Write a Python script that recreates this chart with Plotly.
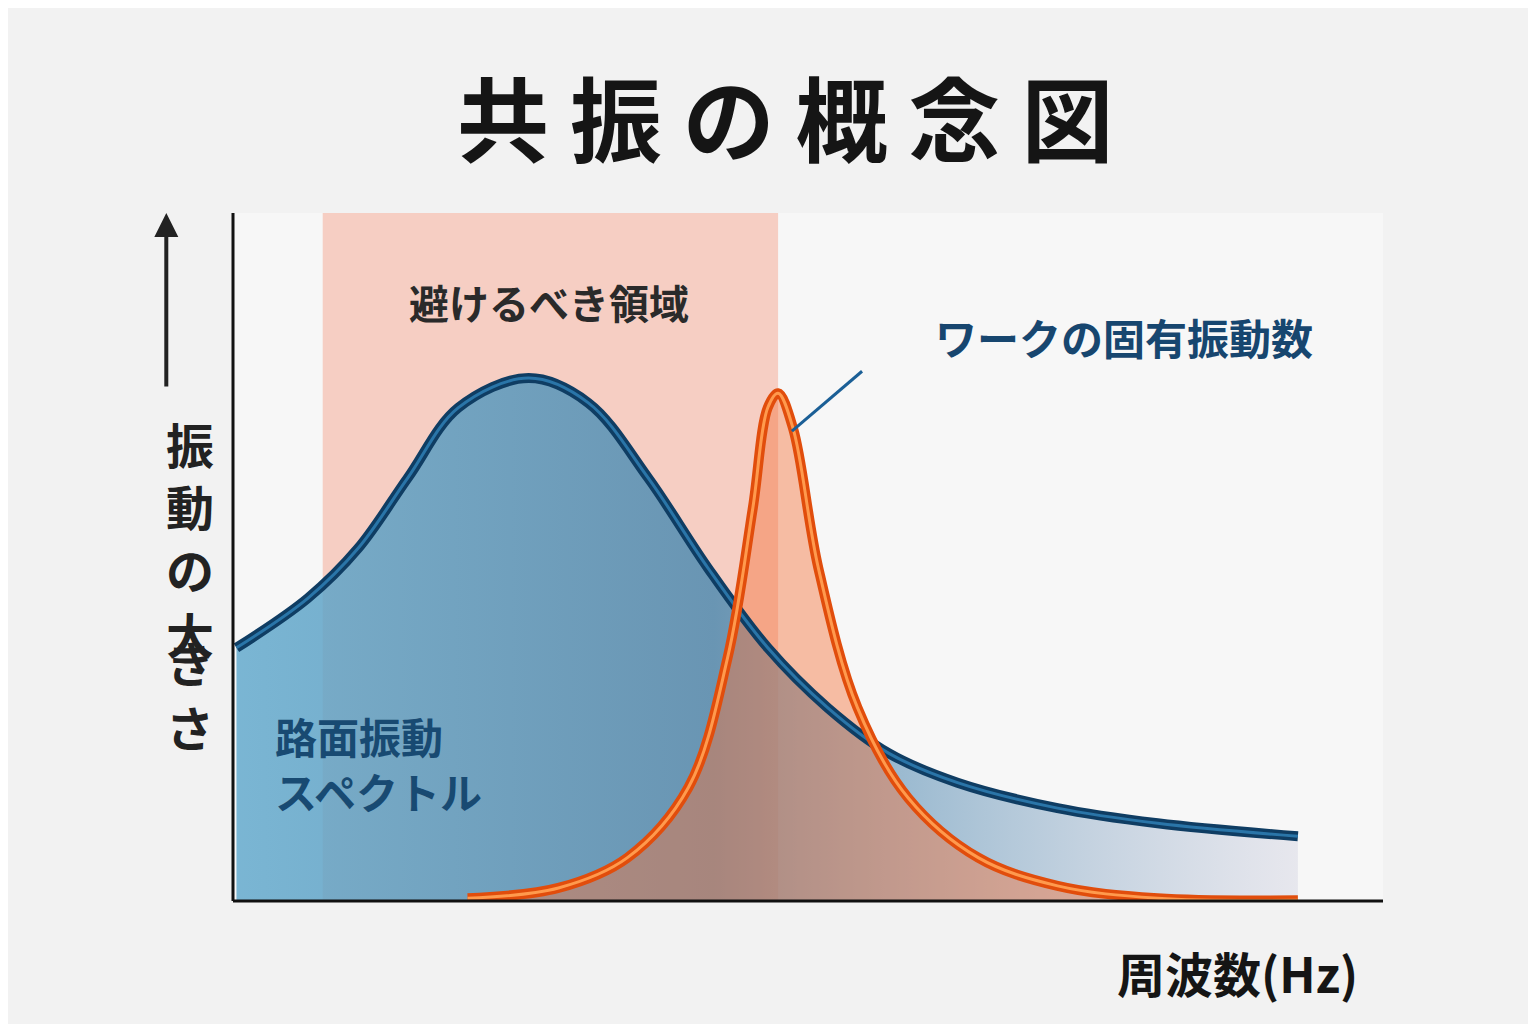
import plotly.graph_objects as go

blue_x = [0.3, 6.5, 10.9, 15.2, 19.6, 25.7, 30.9, 36.1, 41.3, 46.5, 51.7, 57.0, 63.0, 71.7, 80.4, 92.6]
blue_y = [36.8, 44.0, 51.3, 61.5, 71.7, 76.0, 72.4, 61.5, 48.4, 36.8, 28.1, 21.5, 17.2, 13.5, 11.3, 9.4]
orange_x = [20.4, 28.3, 34.3, 39.6, 43.0, 45.2, 46.5, 47.4, 48.7, 50.9, 54.3, 58.7, 64.8, 71.7, 80.4, 92.6]
orange_y = [0.4, 1.9, 6.3, 16.5, 35.3, 57.1, 71.7, 73.8, 68.7, 48.4, 28.1, 15.0, 6.3, 2.2, 0.4, 0.1]
zone = [7.8, 47.4]
ylabel_chars = ["振", "動", "の", "大", "き", "さ"]

F = "Noto Sans CJK JP"
fig = go.Figure()
fig.add_trace(go.Scatter(x=blue_x, y=blue_y, mode="lines", line=dict(shape="spline", width=0),
    fill="tozeroy", fillgradient=dict(type="horizontal",
        colorscale=[[0, "rgba(100,170,205,0.85)"], [0.45, "rgba(70,135,175,0.8)"], [1, "rgba(215,215,228,0.5)"]]),
    hoverinfo="skip"))
fig.add_trace(go.Scatter(x=orange_x, y=orange_y, mode="lines", line=dict(shape="spline", width=0),
    fill="tozeroy", fillcolor="rgba(245,115,60,0.45)", hoverinfo="skip"))
fig.add_trace(go.Scatter(x=blue_x, y=blue_y, mode="lines", line=dict(shape="spline", width=10, color="#0f3d63")))
fig.add_trace(go.Scatter(x=blue_x, y=blue_y, mode="lines", line=dict(shape="spline", width=3, color="#2a75a8")))
fig.add_trace(go.Scatter(x=orange_x, y=orange_y, mode="lines", line=dict(shape="spline", width=10, color="#e14d0c")))
fig.add_trace(go.Scatter(x=orange_x, y=orange_y, mode="lines", line=dict(shape="spline", width=3, color="#ff9a4d")))

fig.add_shape(type="rect", xref="x", yref="y", x0=zone[0], x1=zone[1], y0=0, y1=100,
              fillcolor="rgba(245,140,110,0.38)", line_width=0, layer="below")
fig.add_shape(type="line", xref="paper", yref="paper", x0=0, x1=1, y0=0, y1=0, line=dict(color="#111", width=3))
fig.add_shape(type="line", xref="paper", yref="paper", x0=0, x1=0, y0=0, y1=1, line=dict(color="#111", width=3))
fig.add_shape(type="line", xref="x", yref="y", x0=48.6, x1=54.7, y0=68.3, y1=77.0, line=dict(color="#1b5f96", width=3))

ann = [
    dict(text="<b>共 振 の 概 念 図</b>", x=0.48, y=1.0, xref="paper", yref="paper", yshift=30,
         xanchor="center", yanchor="bottom", font=dict(size=92, color="#151515")),
    dict(text="<b>避けるべき領域</b>", x=27.5, y=87, font=dict(size=40, color="#2a2a2a")),
    dict(text="<b>ワークの固有振動数</b>", x=77.5, y=82, font=dict(size=42, color="#17466f")),
    dict(text="<b>路面振動<br>スペクトル</b>", x=3.5, y=20, xanchor="left", align="left",
         font=dict(size=42, color="#184a72")),
    dict(text="<b>周波数(Hz)</b>", x=0.98, y=-0.05, xref="paper", yref="paper", xanchor="right", yanchor="top",
         font=dict(size=48, color="#151515")),
]
ypx = [435, 497, 560, 625, 690, 755]
for ch, py in zip(ylabel_chars, ypx):
    ann.append(dict(text="<b>" + ch + "</b>", x=-0.06, y=(893 - py) / 688, xref="paper", yref="paper",
                    font=dict(size=48, color="#222")))
for a in ann:
    a.setdefault("xref", "x"); a.setdefault("yref", "y"); a["showarrow"] = False
    a["font"]["family"] = F
    fig.add_annotation(**a)
fig.add_annotation(x=-0.058, y=1.0, xref="paper", yref="paper", ax=0, ay=175, showarrow=True,
                   arrowhead=2, arrowsize=1.2, arrowwidth=4, arrowcolor="#222", text="")

fig.update_layout(width=1536, height=1024, showlegend=False,
    margin=dict(l=225, r=161, t=205, b=131),
    paper_bgcolor="#f2f2f2", plot_bgcolor="rgba(250,250,250,0.6)",
    xaxis=dict(range=[0, 100], visible=False, fixedrange=True),
    yaxis=dict(range=[0, 100], visible=False, fixedrange=True))
fig.write_html("out.html")
